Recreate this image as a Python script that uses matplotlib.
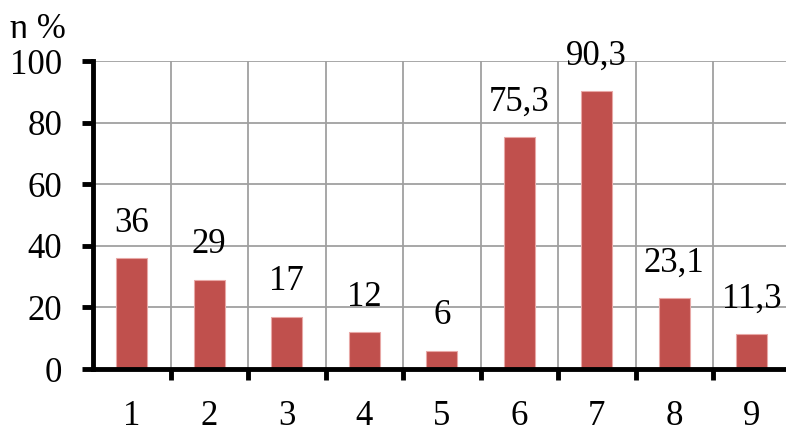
import matplotlib
matplotlib.use("Agg")
import matplotlib.pyplot as plt
from matplotlib.patches import Rectangle
import numpy as np

categories = ["1", "2", "3", "4", "5", "6", "7", "8", "9"]
values = [36, 29, 17, 12, 6, 75.3, 90.3, 23.1, 11.3]
value_labels = ["36", "29", "17", "12", "6", "75,3", "90,3", "23,1", "11,3"]
yticks = [0, 20, 40, 60, 80, 100]

plt.rcParams['font.family'] = ['Liberation Serif', 'DejaVu Serif']
FS = 25

W, H = 786, 428
fig = plt.figure(figsize=(W / 100, H / 100), dpi=100)
ax = fig.add_axes([93 / W, (H - 369) / H, 697.5 / W, 308 / H])

x = np.arange(1, len(categories) + 1)
ax.bar(x, values, width=0.4, color='#C0504D', edgecolor='#E8A8A6', linewidth=0.8, zorder=3)

for xi, v, lab in zip(x, values, value_labels):
    ax.annotate(lab, (xi, v), xytext=(0, 19), textcoords='offset points',
                ha='center', va='baseline', fontsize=FS, zorder=4)

ax.set_xlim(0.5, 9.5)
ax.set_ylim(0, 100)
ax.set_yticks(yticks)
ax.set_yticklabels([str(t) for t in yticks])
ax.set_xticks(x)
ax.set_xticklabels(categories)
ax.set_xticks(np.arange(1.5, 9.5, 1.0), minor=True)

ax.tick_params(axis='x', which='major', length=0, pad=22, labelsize=FS)
ax.tick_params(axis='x', which='minor', length=8, width=3.5, direction='out')
ax.tick_params(axis='y', which='major', length=8, width=3.5, direction='out', pad=14, labelsize=FS)

ax.grid(False)
for t in yticks[1:]:
    ax.axhline(t, color='#A0A0A0', lw=1.3, zorder=1)
ax.vlines(np.arange(1.5, 9.5, 1.0), 0, 100, color='#A0A0A0', lw=1.3, zorder=1)

for s in ['top', 'right']:
    ax.spines[s].set_visible(False)
for s in ['left', 'bottom']:
    ax.spines[s].set_linewidth(3.5)
    ax.spines[s].set_zorder(5)

t = fig.text(10 / W, (H - 38) / H, "η %", fontsize=FS, ha='left', va='baseline')
clip = Rectangle((0, (H - 38) / H), 1, 38 / H, transform=fig.transFigure, facecolor='none')
t.set_clip_path(clip)
t.set_clip_on(True)

fig.savefig("out.png", dpi=100)
